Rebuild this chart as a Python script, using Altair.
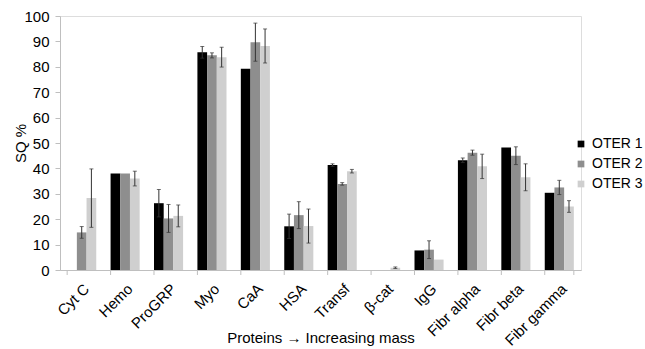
import altair as alt
import pandas as pd

cats = ["Cyt C", "Hemo", "ProGRP", "Myo", "CaA", "HSA", "Transf", "β-cat",
        "IgG", "Fibr alpha", "Fibr beta", "Fibr gamma"]
series = ["OTER 1", "OTER 2", "OTER 3"]
oter1 = [0, 38.0, 26.3, 85.7, 79.2, 17.2, 41.3, 0, 7.7, 43.2, 48.2, 30.4]
oter2 = [14.8, 38.0, 20.3, 84.5, 89.7, 21.6, 33.9, 0, 8.0, 46.2, 45.0, 32.5]
oter3 = [28.3, 36.0, 21.3, 83.8, 88.2, 17.3, 38.9, 0.9, 4.1, 40.8, 36.5, 25.0]
err1 = [0, 0, 5.4, 2.3, 0, 4.8, 0.5, 0, 0, 0.9, 0, 0]
err2 = [2.3, 0, 5.5, 1.0, 7.5, 5.3, 0.5, 0, 3.5, 1.0, 3.5, 2.8]
err3 = [11.5, 2.9, 4.3, 3.9, 6.7, 6.7, 0.7, 0.3, 0, 4.8, 5.3, 2.3]
colors = ["#000000", "#8e8e8e", "#cfcfcf"]

rows = []
for s, vals, errs in zip(series, [oter1, oter2, oter3], [err1, err2, err3]):
    for c, v, e in zip(cats, vals, errs):
        rows.append({"cat": c, "series": s, "value": v, "err": e,
                     "lo": v - e, "hi": v + e})
df = pd.DataFrame(rows)
df_bar = df[df["value"] > 0]
df_err = df[df["err"] > 0]

W, H = 521, 254
axis_gray = "#bfbfbf"

x_scale = alt.Scale(domain=cats, paddingInner=0.33, paddingOuter=0.165)
x_axis = alt.Axis(title="Proteins → Increasing mass", labelAngle=-45,
                  labelAlign="right", labelBaseline="top", ticks=False,
                  domainColor=axis_gray, labelPadding=11, labelFontSize=15,
                  labelColor="#000000", titleFontSize=15,
                  titleFontWeight="normal", titleColor="#000000",
                  titleY=67, titleBaseline="middle")
y_scale = alt.Scale(domain=[0, 100])
y_axis = alt.Axis(title="SQ %", values=list(range(0, 101, 10)), grid=False,
                  domainColor=axis_gray, tickColor=axis_gray, tickSize=5,
                  labelPadding=6, labelFontSize=15, labelColor="#000000",
                  labelOverlap=False,
                  titleFontSize=15, titleFontWeight="normal",
                  titleColor="#000000", titleX=-40, titleY=H / 2,
                  titleBaseline="middle", titleAngle=-90)


def X(**kw):
    return alt.X("cat:N", sort=cats, scale=x_scale, axis=x_axis, **kw)


def Y(field):
    return alt.Y(field, scale=y_scale, axis=y_axis)


xo = alt.XOffset("series:N", sort=series,
                 scale=alt.Scale(paddingInner=0, paddingOuter=0))

bars = alt.Chart(df_bar).mark_bar().encode(
    x=X(),
    xOffset=xo,
    y=Y("value:Q"),
    color=alt.Color("series:N", sort=series,
                    scale=alt.Scale(domain=series, range=colors),
                    legend=alt.Legend(title=None, orient="none", legendX=514,
                                      legendY=121, symbolType="square",
                                      symbolSize=45, symbolStrokeWidth=0,
                                      labelFontSize=14, labelColor="#000000",
                                      labelOffset=4, rowPadding=6, padding=0)),
)

rules = alt.Chart(df_err).mark_rule(color="#333333", strokeWidth=1).encode(
    x=X(), xOffset=xo, y=Y("lo:Q"), y2="hi:Q")
cap_lo = alt.Chart(df_err).mark_tick(color="#333333", thickness=1, size=4,
                                     orient="horizontal").encode(
    x=X(), xOffset=xo, y=Y("lo:Q"))
cap_hi = alt.Chart(df_err).mark_tick(color="#333333", thickness=1, size=4,
                                     orient="horizontal").encode(
    x=X(), xOffset=xo, y=Y("hi:Q"))

tick_df = pd.DataFrame({"cat": cats})
xticks = alt.Chart(tick_df).mark_rule(color=axis_gray).encode(
    x=X(bandPosition=0), y=alt.value(H), y2=alt.value(H + 5))
xtick_end = alt.Chart(pd.DataFrame({"cat": [cats[-1]]})).mark_rule(color=axis_gray).encode(
    x=X(bandPosition=1), y=alt.value(H), y2=alt.value(H + 5))

chart = alt.layer(bars, rules, cap_lo, cap_hi, xticks, xtick_end).properties(
    width=W, height=H,
    padding={"left": 60, "top": 16, "right": 64, "bottom": 79},
    autosize=alt.AutoSizeParams(type="none"),
).configure_view(stroke=None).configure(font="Liberation Sans")

chart.save("out.html", embed_options={"renderer": "svg", "actions": False})
